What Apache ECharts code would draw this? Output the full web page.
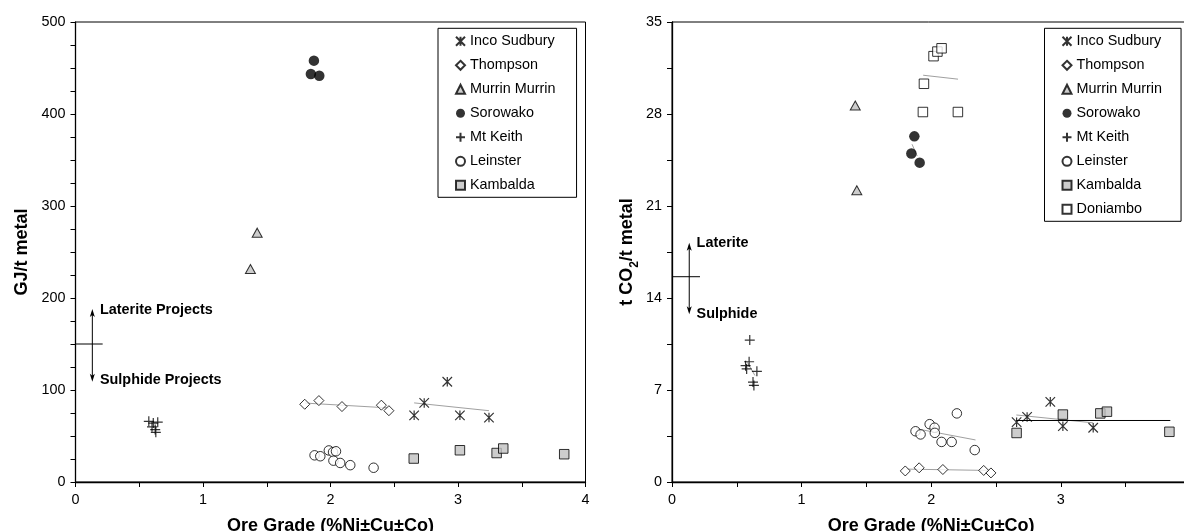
<!DOCTYPE html>
<html><head><meta charset="utf-8">
<script src="https://cdn.jsdelivr.net/npm/echarts@6/dist/echarts.min.js"></script>
<style>html,body{margin:0;padding:0;background:#fff;overflow:hidden}#c{width:1184px;height:531px}</style>
</head><body><div id="c"></div>
<script>
// ---------- Data ----------
const leftSites = ['Inco Sudbury','Thompson','Murrin Murrin','Sorowako','Mt Keith','Leinster','Kambalda'];
const rightSites = ['Inco Sudbury','Thompson','Murrin Murrin','Sorowako','Mt Keith','Leinster','Kambalda','Doniambo'];
const xTickLabels = [0, 1, 2, 3, 4];
const energyTickLabels = [0, 100, 200, 300, 400, 500];
const co2TickLabels = [0, 7, 14, 21, 28, 35];

// Energy (GJ/t metal) vs ore grade
const eIncoX = [2.656, 2.735, 2.916, 3.015, 3.243];
const eIncoY = [72.5, 86, 109, 72.5, 70];
const eThompsonX = [1.798, 1.909, 2.09, 2.399, 2.458];
const eThompsonY = [84.5, 88.5, 82, 83.5, 77.5];
const eMurrinX = [1.372, 1.425];
const eMurrinY = [231.5, 271];
const eSorowakoX = [1.87, 1.846, 1.912];
const eSorowakoY = [458, 443.5, 441.5];
const eMtKeithX = [0.575, 0.61, 0.645, 0.6, 0.625, 0.63];
const eMtKeithY = [66, 64, 65, 60, 57, 54];
const eLeinsterX = [1.875, 1.92, 1.987, 2.02, 2.043, 2.023, 2.076, 2.155, 2.338];
const eLeinsterY = [29, 28, 34.3, 32.5, 33.4, 23.2, 20.7, 18.3, 15.5];
const eKambaldaX = [2.653, 3.015, 3.303, 3.355, 3.833];
const eKambaldaY = [25.5, 34.5, 31.5, 36.4, 30.2];
const eThompsonTrend = [[1.8, 85.8], [2.46, 80.5]];
const eIncoTrend = [[2.656, 86], [3.243, 77.5]];

// CO2 (t CO2/t metal) vs ore grade
const cIncoX = [2.659, 2.74, 2.919, 3.016, 3.25];
const cIncoY = [4.55, 4.95, 6.1, 4.25, 4.13];
const cThompsonX = [1.8, 1.907, 2.09, 2.405, 2.461];
const cThompsonY = [0.84, 1.08, 0.95, 0.88, 0.69];
const cMurrinX = [1.414, 1.426];
const cMurrinY = [28.65, 22.2];
const cSorowakoX = [1.87, 1.847, 1.911];
const cSorowakoY = [26.3, 25.0, 24.3];
const cMtKeithX = [0.6, 0.595, 0.568, 0.576, 0.655, 0.625, 0.632];
const cMtKeithY = [10.8, 9.15, 8.85, 8.6, 8.42, 7.6, 7.35];
const cLeinsterX = [1.879, 1.918, 1.988, 2.026, 2.028, 2.08, 2.158, 2.198, 2.336];
const cLeinsterY = [3.86, 3.62, 4.4, 4.13, 3.74, 3.05, 3.05, 5.22, 2.43];
const cKambaldaX = [2.659, 3.016, 3.305, 3.356, 3.838];
const cKambaldaY = [3.73, 5.13, 5.22, 5.35, 3.82];
const cDoniamboX = [2.018, 2.048, 2.08, 1.944, 1.936, 2.206];
const cDoniamboY = [32.4, 32.75, 33.0, 30.3, 28.15, 28.15];
const cDoniamboTrend = [[1.938, 30.95], [2.207, 30.65]];
const cSorowakoTrend = [[1.852, 25.7], [1.892, 24.8]];
const cMtKeithTrend = [[0.582, 9.1], [0.64, 8.1]];
const cLeinsterTrend = [[1.886, 4.05], [2.342, 3.2]];
const cThompsonTrend = [[1.81, 0.98], [2.43, 0.88]];
const cIncoTrend = [[2.657, 5.1], [3.25, 4.5]];
const cKambaldaTrend = [[2.657, 4.68], [3.845, 4.68]];

// Annotations (data coords)
const eDivider = { y: 150, xEnd: 0.213, arrowX: 0.132, arrowTop: 188, arrowBottom: 109, textX: 0.192, textTop: 187, textBottom: 111, top: 'Laterite Projects', bottom: 'Sulphide Projects' };
const cDivider = { y: 15.62, xEnd: 0.216, arrowX: 0.133, arrowTop: 18.2, arrowBottom: 12.76, textX: 0.19, textTop: 18.17, textBottom: 12.76, top: 'Laterite', bottom: 'Sulphide' };

// ---------- Styles ----------
const FONT = 'Liberation Sans, Arial, sans-serif';
const GRAY = '#c0c0c0';
const styles = {
  'Inco Sudbury': { symbol: 'path://M0 0L10 10M10 0L0 10M5 0L5 10', symbolSize: 9.5, itemStyle: { color: 'rgba(0,0,0,0)', borderColor: '#000', borderWidth: 1.2 } },
  'Thompson': { symbol: 'diamond', symbolSize: [10, 10], itemStyle: { color: '#fff', borderColor: '#000', borderWidth: 1 } },
  'Murrin Murrin': { symbol: 'triangle', symbolSize: [10, 9], itemStyle: { color: GRAY, borderColor: '#000', borderWidth: 1 } },
  'Sorowako': { symbol: 'circle', symbolSize: 10.5, itemStyle: { color: '#000', borderColor: '#000', borderWidth: 0 } },
  'Mt Keith': { symbol: 'path://M5 0L5 10M0 5L10 5', symbolSize: 10, itemStyle: { color: 'rgba(0,0,0,0)', borderColor: '#000', borderWidth: 1.2 } },
  'Leinster': { symbol: 'circle', symbolSize: 9.5, itemStyle: { color: '#fff', borderColor: '#000', borderWidth: 1 } },
  'Kambalda': { symbol: 'rect', symbolSize: 9.5, itemStyle: { color: GRAY, borderColor: '#000', borderWidth: 1 } },
  'Doniambo': { symbol: 'rect', symbolSize: 9.5, itemStyle: { color: '#fff', borderColor: '#000', borderWidth: 1 } }
};

function zip(xs, ys) { return xs.map((x, i) => [x, ys[i]]); }
function scatter(name, xs, ys, g) {
  const s = styles[name];
  return { type: 'scatter', name, xAxisIndex: g, yAxisIndex: g, data: zip(xs, ys),
    symbol: s.symbol, symbolSize: s.symbolSize, itemStyle: s.itemStyle, z: 5, silent: true,
    emphasis: { disabled: true } };
}
function trend(pts, g, color) {
  return { type: 'line', name: 'trend', xAxisIndex: g, yAxisIndex: g, data: pts, symbol: 'none',
    lineStyle: { color: color || '#a0a0a0', width: 1 }, z: 3, silent: true, animation: false };
}

function xAxis(g) {
  return { gridIndex: g, type: 'value', min: 0, max: 4, interval: 0.5,
    axisLine: { show: true, onZero: false, lineStyle: { color: '#000', width: 1.3 } },
    axisTick: { show: true, length: 5, lineStyle: { color: '#000', width: 1 } },
    axisLabel: { color: '#000', fontSize: 14.4, fontFamily: FONT, margin: 11,
      formatter: v => xTickLabels.indexOf(v) >= 0 ? String(v) : '' },
    splitLine: { show: false },
    name: 'Ore Grade (%Ni±Cu±Co)', nameLocation: 'middle', nameGap: 35,
    nameTextStyle: { color: '#000', fontSize: 18, fontWeight: 'bold', fontFamily: FONT } };
}
function yAxis(g, max, interval, labels, name, gap, rich) {
  return { gridIndex: g, type: 'value', min: 0, max, interval,
    axisLine: { show: true, onZero: false, lineStyle: { color: '#000', width: 1.3 } },
    axisTick: { show: true, length: 5, lineStyle: { color: '#000', width: 1 } },
    axisLabel: { color: '#000', fontSize: 14.4, fontFamily: FONT, margin: 10,
      formatter: v => labels.some(l => Math.abs(l - v) < 1e-6) ? String(Math.round(v)) : '' },
    splitLine: { show: false },
    name, nameLocation: 'middle', nameGap: gap,
    nameTextStyle: { color: '#000', fontSize: 18, fontWeight: 'bold', fontFamily: FONT, rich } };
}

const legendBase = { orient: 'vertical', itemWidth: 9, itemHeight: 9, itemGap: 8, selectedMode: false,
  borderColor: '#000', borderWidth: 1, backgroundColor: '#fff', borderRadius: 0,
  textStyle: { color: '#000', fontSize: 14.4, fontFamily: FONT, lineHeight: 16 } };

const chart = echarts.init(document.getElementById('c'), null, { renderer: 'canvas' });
const option = {
  animation: false,
  backgroundColor: '#fff',
  grid: [
    { left: 75.5, top: 22, width: 510, height: 460, show: true, borderColor: '#000', borderWidth: 1, backgroundColor: 'transparent', outerBoundsMode: 'none', containLabel: false },
    { left: 672, top: 22, width: 518.4, height: 460, show: true, borderColor: '#000', borderWidth: 1, backgroundColor: 'transparent', outerBoundsMode: 'none', containLabel: false }
  ],
  xAxis: [xAxis(0), xAxis(1)],
  yAxis: [
    yAxis(0, 500, 25, energyTickLabels, 'GJ/t metal', 44),
    yAxis(1, 35, 3.5, co2TickLabels, 't CO{s|2}/t metal', 36, { s: { fontSize: 12, fontWeight: 'bold', fontFamily: FONT, color: '#000', verticalAlign: 'bottom', padding: [0, 0, -5, 0] } })
  ],
  legend: [
    Object.assign({}, legendBase, { left: 438, top: 28.3, padding: [5, 21, 4, 17], data: leftSites }),
    Object.assign({}, legendBase, { left: 1044.5, top: 28.3, padding: [5, 19, 4, 17], data: rightSites })
  ],
  series: [
    trend(eThompsonTrend, 0), trend(eIncoTrend, 0),
    scatter('Inco Sudbury', eIncoX, eIncoY, 0),
    scatter('Thompson', eThompsonX, eThompsonY, 0),
    scatter('Murrin Murrin', eMurrinX, eMurrinY, 0),
    scatter('Sorowako', eSorowakoX, eSorowakoY, 0),
    scatter('Mt Keith', eMtKeithX, eMtKeithY, 0),
    scatter('Leinster', eLeinsterX, eLeinsterY, 0),
    scatter('Kambalda', eKambaldaX, eKambaldaY, 0),
    trend(cDoniamboTrend, 1), trend(cSorowakoTrend, 1), trend(cMtKeithTrend, 1),
    trend(cLeinsterTrend, 1), trend(cThompsonTrend, 1), trend(cIncoTrend, 1),
    scatter('Inco Sudbury', cIncoX, cIncoY, 1),
    scatter('Thompson', cThompsonX, cThompsonY, 1),
    scatter('Murrin Murrin', cMurrinX, cMurrinY, 1),
    scatter('Sorowako', cSorowakoX, cSorowakoY, 1),
    scatter('Mt Keith', cMtKeithX, cMtKeithY, 1),
    scatter('Leinster', cLeinsterX, cLeinsterY, 1),
    scatter('Kambalda', cKambaldaX, cKambaldaY, 1),
    scatter('Doniambo', cDoniamboX, cDoniamboY, 1),
    trend(cKambaldaTrend, 1, '#000')
  ]
};
chart.setOption(option);

function annot(g, d) {
  const P = (x, y) => chart.convertToPixel({ gridIndex: g }, [x, y]);
  const a = P(0, d.y), b = P(d.xEnd, d.y);
  const t = P(d.arrowX, d.arrowTop), u = P(d.arrowX, d.arrowBottom);
  const lt = P(d.textX, d.textTop), lb = P(d.textX, d.textBottom);
  const ls = { stroke: '#000', lineWidth: 1 };
  const tf = { fill: '#000', font: 'bold 14.4px ' + FONT, textAlign: 'left', textVerticalAlign: 'middle' };
  return [
    { type: 'line', shape: { x1: a[0], y1: a[1], x2: b[0], y2: b[1] }, style: ls, z: 10 },
    { type: 'line', shape: { x1: t[0], y1: t[1] + 3, x2: u[0], y2: u[1] - 3 }, style: ls, z: 10 },
    { type: 'polygon', shape: { points: [[t[0], t[1]], [t[0] - 2.5, t[1] + 8], [t[0], t[1] + 6], [t[0] + 2.5, t[1] + 8]] }, style: { fill: '#000' }, z: 10 },
    { type: 'polygon', shape: { points: [[u[0], u[1]], [u[0] - 2.5, u[1] - 8], [u[0], u[1] - 6], [u[0] + 2.5, u[1] - 8]] }, style: { fill: '#000' }, z: 10 },
    { type: 'text', x: lt[0], y: lt[1], style: Object.assign({ text: d.top }, tf), z: 10 },
    { type: 'text', x: lb[0], y: lb[1], style: Object.assign({ text: d.bottom }, tf), z: 10 }
  ];
}
chart.setOption({ graphic: annot(0, eDivider).concat(annot(1, cDivider)) });
</script></body></html>
